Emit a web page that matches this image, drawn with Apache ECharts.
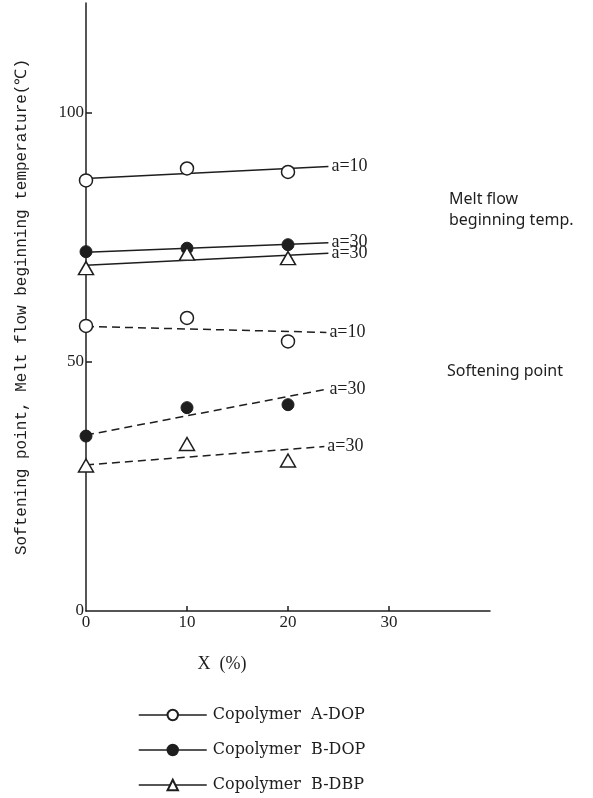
<!DOCTYPE html>
<html>
<head>
<meta charset="utf-8">
<script src="https://cdn.jsdelivr.net/npm/echarts@6/dist/echarts.min.js"></script>
<style>
  html, body { margin: 0; padding: 0; background: #fff; }
  #chart { width: 593px; height: 798px; }
</style>
</head>
<body>
<div id="chart"></div>
<script>
// x positions of the measured points
var xs = [0, 10, 20];

// melt flow beginning temp. (solid lines)
var meltA_DOP = [86.4, 88.8, 88.1];
var meltB_DOP = [72.1, 72.8, 73.5];
var meltB_DBP = [68.8, 71.7, 70.8];

// softening point (dashed lines)
var softA_DOP = [57.2, 58.8, 54.1];
var softB_DOP = [35.1, 40.8, 41.4];
var softB_DBP = [29.2, 33.5, 30.2];

// drawn trend lines: [x, y] start and end
var fitMeltA_DOP = [[0, 86.8], [24, 89.2]];
var fitMeltB_DOP = [[0, 72.0], [24, 73.9]];
var fitMeltB_DBP = [[0, 69.4], [24, 71.8]];
var fitSoftA_DOP = [[0, 57.1], [23.8, 55.9]];
var fitSoftB_DOP = [[0, 35.3], [23.8, 44.5]];
var fitSoftB_DBP = [[0, 29.3], [23.6, 33.0]];

var fitLabels = ['a=10', 'a=30', 'a=30', 'a=10', 'a=30', 'a=30'];

var xTickLabels = [0, 10, 20, 30];
var xTickMarks = [10, 20, 30];
var yTickLabels = [0, 50, 100];
var yTickMarks = [50, 100];

var seriesNames = ['Copolymer A-DOP', 'Copolymer B-DOP', 'Copolymer B-DBP'];

var ink = '#1e1e1e';
var serif = "'Liberation Serif', 'DejaVu Serif', serif";

function pts(vals) {
    var out = [];
    for (var i = 0; i < xs.length; i++) {
        out.push([xs[i], vals[i]]);
    }
    return out;
}

// marker styles per copolymer
var markerStyle = [
    { symbol: 'circle', symbolSize: 13, itemStyle: { color: '#fff', borderColor: ink, borderWidth: 1.5 } },
    { symbol: 'circle', symbolSize: 12, itemStyle: { color: ink, borderColor: ink, borderWidth: 1 } },
    { symbol: 'triangle', symbolSize: [15, 13], itemStyle: { color: '#fff', borderColor: ink, borderWidth: 1.5 } }
];

function pointSeries(name, vals, k) {
    return {
        name: name,
        type: 'line',
        data: pts(vals),
        symbol: markerStyle[k].symbol,
        symbolSize: markerStyle[k].symbolSize,
        itemStyle: markerStyle[k].itemStyle,
        lineStyle: { width: 0, opacity: 0 },
        z: 5
    };
}

function fitSeries(data, label, dashed) {
    return {
        type: 'line',
        data: data,
        symbol: 'none',
        silent: true,
        lineStyle: { color: ink, width: 1.5, type: dashed ? [8, 5] : 'solid' },
        endLabel: {
            show: true,
            formatter: label,
            distance: 3,
            color: ink,
            fontFamily: serif,
            fontSize: 18
        },
        z: 2
    };
}

var series = [
    fitSeries(fitMeltA_DOP, fitLabels[0], false),
    fitSeries(fitMeltB_DOP, fitLabels[1], false),
    fitSeries(fitMeltB_DBP, fitLabels[2], false),
    fitSeries(fitSoftA_DOP, fitLabels[3], true),
    fitSeries(fitSoftB_DOP, fitLabels[4], true),
    fitSeries(fitSoftB_DBP, fitLabels[5], true),
    pointSeries(seriesNames[0], meltA_DOP, 0),
    pointSeries(seriesNames[0], softA_DOP, 0),
    pointSeries(seriesNames[1], meltB_DOP, 1),
    pointSeries(seriesNames[1], softB_DOP, 1),
    pointSeries(seriesNames[2], meltB_DBP, 2),
    pointSeries(seriesNames[2], softB_DBP, 2)
];

var chart = echarts.init(document.getElementById('chart'), null, { renderer: 'canvas' });

chart.setOption({
    animation: false,
    backgroundColor: '#fff',
    grid: { left: 86, top: 3, width: 404, height: 608, outerBoundsMode: 'none' },
    xAxis: {
        type: 'value',
        min: 0,
        max: 40,
        interval: 10,
        splitLine: { show: false },
        axisLine: { lineStyle: { color: ink, width: 1.5 } },
        axisTick: { inside: true, length: 5, customValues: xTickMarks, lineStyle: { color: ink, width: 1.5 } },
        axisLabel: { customValues: xTickLabels, color: ink, fontFamily: serif, fontSize: 17, margin: 3 },
        name: 'X  (%)',
        nameLocation: 'middle',
        nameGap: 44,
        nameTextStyle: { color: ink, fontFamily: serif, fontSize: 18, padding: [0, 132, 0, 0] }
    },
    yAxis: {
        type: 'value',
        min: 0,
        max: 122,
        interval: 50,
        splitLine: { show: false },
        axisLine: { lineStyle: { color: ink, width: 1.5 } },
        axisTick: { inside: true, length: 6, customValues: yTickMarks, lineStyle: { color: ink, width: 1.5 } },
        axisLabel: { customValues: yTickLabels, color: ink, fontFamily: serif, fontSize: 17, margin: 2 },
        name: 'Softening point, Melt flow beginning temperature(℃)',
        nameLocation: 'middle',
        nameRotate: 90,
        nameGap: 56,
        nameTextStyle: { color: ink, fontFamily: "'Liberation Mono', 'DejaVu Sans Mono', monospace", fontSize: 16 }
    },
    legend: {
        orient: 'vertical',
        left: 138,
        top: 706,
        padding: 0,
        height: 90,
        itemWidth: 68,
        itemHeight: 13,
        itemGap: 17,
        data: seriesNames,
        lineStyle: { color: ink, width: 1.5, type: 'solid', opacity: 1 },
        textStyle: { color: ink, fontFamily: "'DejaVu Serif', serif", fontSize: 16, lineHeight: 18, padding: [0, 0, 0, 1] },
        formatter: function (name) { return name.replace(' ', '  '); },
        selectedMode: false
    },
    graphic: [
        { type: 'text', left: 449, top: 191, style: { text: 'Melt flow', fill: ink, font: "16px 'Noto Sans', sans-serif" } },
        { type: 'text', left: 449, top: 212, style: { text: 'beginning temp.', fill: ink, font: "16px 'Noto Sans', sans-serif" } },
        { type: 'text', left: 447, top: 363, style: { text: 'Softening point', fill: ink, font: "16px 'Noto Sans', sans-serif" } }
    ],
    series: series
});
</script>
</body>
</html>
